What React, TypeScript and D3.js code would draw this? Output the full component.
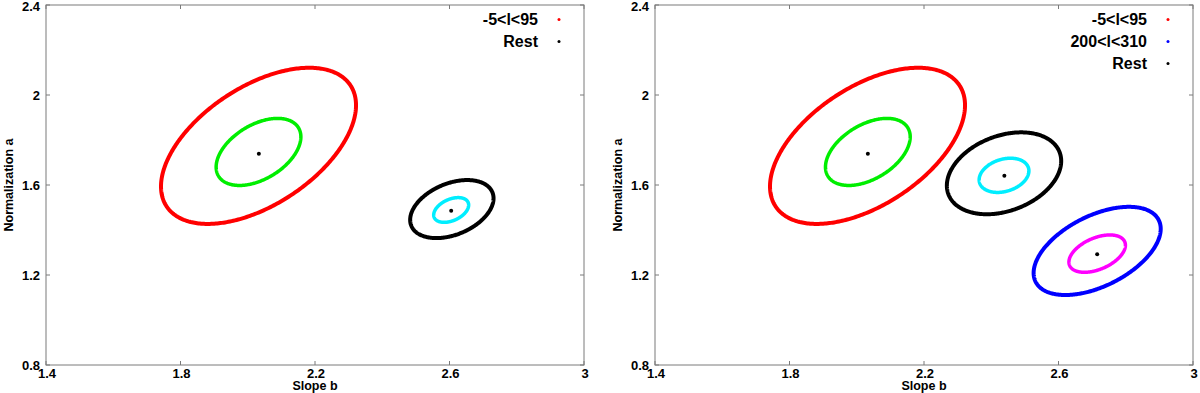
import React from 'react';
import * as d3 from 'd3';

// axis ticks (same for both panels)
const xTicks = [1.4, 1.8, 2.2, 2.6, 3];
const yTicks = [0.8, 1.2, 1.6, 2.0, 2.4];
const xTickLabels = ['1.4', '1.8', '2.2', '2.6', '3'];
const yTickLabels = ['0.8', '1.2', '1.6', '2', '2.4'];

// legend entries
const leftLegend = ['-5<l<95', 'Rest'];
const rightLegend = ['-5<l<95', '200<l<310', 'Rest'];

// confidence contours: centre, half-extent in x / y, correlation
const leftContours = [
  { key: 'gc-outer', cx: 2.032, cy: 1.774, sx: 0.29, sy: 0.347, rho: 0.52 },
  { key: 'gc-inner', cx: 2.032, cy: 1.747, sx: 0.126, sy: 0.149, rho: 0.45 },
  { key: 'rest-outer', cx: 2.607, cy: 1.493, sx: 0.124, sy: 0.129, rho: 0.37 },
  { key: 'rest-inner', cx: 2.605, cy: 1.489, sx: 0.052, sy: 0.055, rho: 0.4 },
];
const rightContours = [
  { key: 'gc-outer', cx: 2.032, cy: 1.774, sx: 0.29, sy: 0.347, rho: 0.52 },
  { key: 'gc-inner', cx: 2.033, cy: 1.747, sx: 0.126, sy: 0.149, rho: 0.45 },
  { key: 'rest-outer', cx: 2.438, cy: 1.652, sx: 0.17, sy: 0.182, rho: 0.3 },
  { key: 'rest-inner', cx: 2.438, cy: 1.643, sx: 0.074, sy: 0.076, rho: 0.26 },
  { key: 'ac-outer', cx: 2.715, cy: 1.307, sx: 0.189, sy: 0.196, rho: 0.5 },
  { key: 'ac-inner', cx: 2.715, cy: 1.295, sx: 0.084, sy: 0.083, rho: 0.45 },
];

// best-fit points
const leftCentres = [
  { b: 2.033, a: 1.739 },
  { b: 2.605, a: 1.486 },
];
const rightCentres = [
  { b: 2.033, a: 1.739 },
  { b: 2.439, a: 1.641 },
  { b: 2.715, a: 1.292 },
];

const contourColor: Record<string, string> = {
  'gc-outer': '#ff0000',
  'gc-inner': '#00ee00',
  'rest-outer': '#000000',
  'rest-inner': '#00eeff',
  'ac-outer': '#0000ff',
  'ac-inner': '#ff00ff',
};
const legendColor: Record<string, string> = {
  '-5<l<95': '#ff0000',
  '200<l<310': '#0000ff',
  Rest: '#000000',
};

const FONT = '"Liberation Sans", Arial, Helvetica, sans-serif';
const frameColor = '#7a7a7a';

const Panel = ({ offsetX, contours, centres, legend }: any) => {
  const left = 46, right = 584, top = 5, bottom = 365;
  const x = d3.scaleLinear().domain([1.4, 3]).range([left, right]);
  const y = d3.scaleLinear().domain([0.8, 2.4]).range([bottom, top]);

  const ellipsePath = (c: any) => {
    const delta = Math.acos(c.rho);
    const ts = d3.range(0, 360).map(i => (i / 360) * Math.PI * 2);
    return d3.line<number>()
      .x(t => x(c.cx + c.sx * Math.cos(t)))
      .y(t => y(c.cy + c.sy * Math.cos(t - delta)))
      .curve(d3.curveLinearClosed)(ts) as string;
  };

  return (
    <g transform={`translate(${offsetX},0)`}>
      <rect x={left} y={top} width={right - left} height={bottom - top}
        fill="none" stroke={frameColor} strokeWidth={1} />
      {xTicks.map(t => (
        <g key={'x' + t}>
          <line x1={x(t)} x2={x(t)} y1={bottom} y2={bottom - 4} stroke={frameColor} />
          <line x1={x(t)} x2={x(t)} y1={top} y2={top + 4} stroke={frameColor} />
        </g>
      ))}
      {yTicks.map(t => (
        <g key={'y' + t}>
          <line x1={left} x2={left + 4} y1={y(t)} y2={y(t)} stroke={frameColor} />
          <line x1={right} x2={right - 4} y1={y(t)} y2={y(t)} stroke={frameColor} />
        </g>
      ))}
      {xTicks.map((t, i) => (
        <text key={'xl' + t} x={x(t) + 1} y={bottom + 13} textAnchor="middle"
          fontFamily={FONT} fontWeight="bold" fontSize={13}>{xTickLabels[i]}</text>
      ))}
      {yTicks.map((t, i) => (
        <text key={'yl' + t} x={left - 6} y={Math.max(y(t) + 5, 11)} textAnchor="end"
          fontFamily={FONT} fontWeight="bold" fontSize={13}>{yTickLabels[i]}</text>
      ))}
      <text x={(left + right) / 2} y={390} textAnchor="middle"
        fontFamily={FONT} fontWeight="bold" fontSize={12.5}>Slope b</text>
      <text transform={`translate(13,${(top + bottom) / 2}) rotate(-90)`} textAnchor="middle"
        fontFamily={FONT} fontWeight="bold" fontSize={12.5}>Normalization a</text>

      {contours.map((c: any) => (
        <path key={c.key} d={ellipsePath(c)} fill="none"
          stroke={contourColor[c.key]} strokeWidth={c.key.endsWith('inner') ? 3.5 : 4} />
      ))}
      {centres.map((p: any, i: number) => (
        <circle key={'c' + i} cx={x(p.b)} cy={y(p.a)} r={2} fill="#000" />
      ))}

      {legend.map((name: string, i: number) => (
        <g key={name}>
          <text x={right - 46} y={19.5 + i * 22 + 5.5} textAnchor="end"
            fontFamily={FONT} fontWeight="bold" fontSize={16}>{name}</text>
          <circle cx={right - 25} cy={19.5 + i * 22} r={1.5} fill={legendColor[name]} />
        </g>
      ))}
    </g>
  );
};

export default function App() {
  return (
    <svg width={1200} height={393} style={{ position: 'absolute', left: 0, top: 0, background: '#fff' }}>
      <rect width={1200} height={393} fill="#fff" />
      <Panel offsetX={0} contours={leftContours} centres={leftCentres} legend={leftLegend} />
      <Panel offsetX={609} contours={rightContours} centres={rightCentres} legend={rightLegend} />
    </svg>
  );
}
